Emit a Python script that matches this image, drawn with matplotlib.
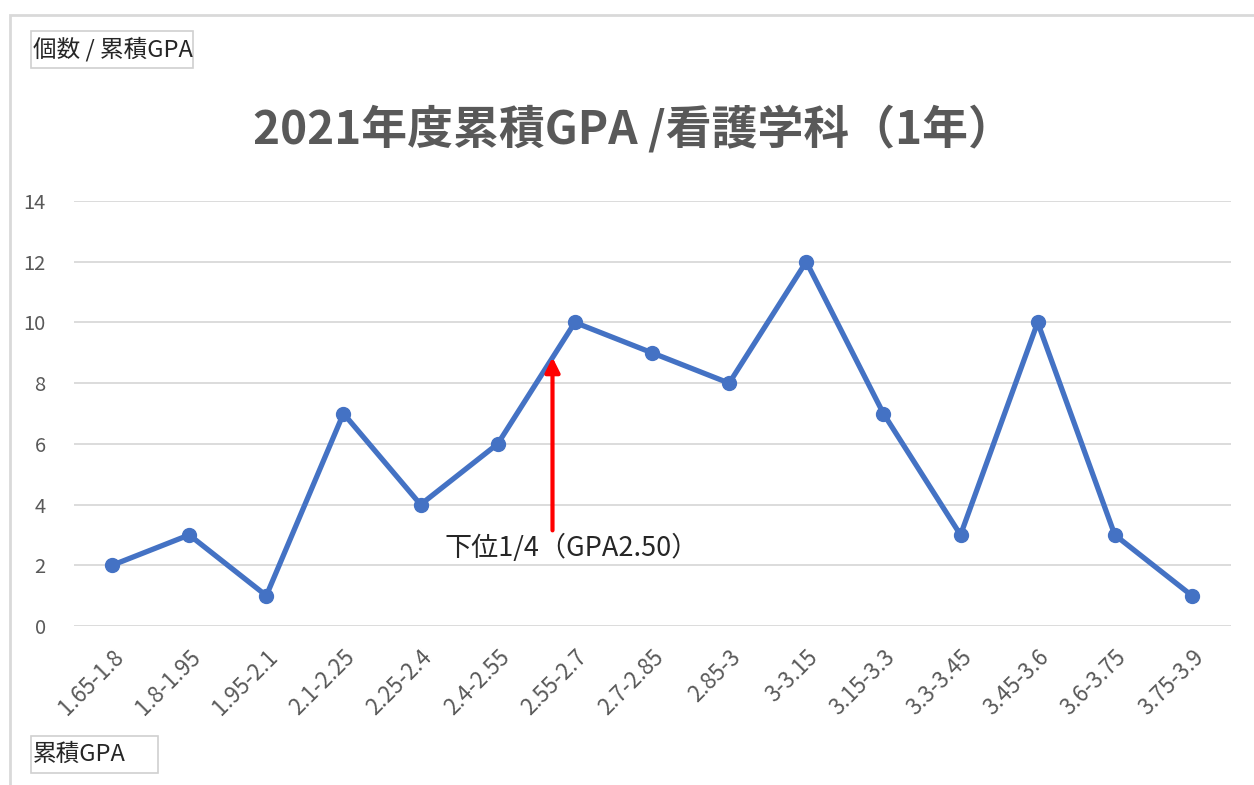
import matplotlib
matplotlib.use("Agg")
import matplotlib.pyplot as plt
from matplotlib.patches import Rectangle

plt.rcParams['font.family'] = ['Noto Sans CJK JP', 'DejaVu Sans']

# data
categories = ['1.65-1.8', '1.8-1.95', '1.95-2.1', '2.1-2.25', '2.25-2.4', '2.4-2.55',
              '2.55-2.7', '2.7-2.85', '2.85-3', '3-3.15', '3.15-3.3', '3.3-3.45',
              '3.45-3.6', '3.6-3.75', '3.75-3.9']
counts = [2, 3, 1, 7, 4, 6, 10, 9, 8, 12, 7, 3, 10, 3, 1]
yticks = [0, 2, 4, 6, 8, 10, 12, 14]
title = '2021年度累積GPA /看護学科（1年）'
marker_label = '下位1/4（GPA2.50）'
marker_x = 5.71          # position of GPA 2.50 on the category axis
arrow_from, arrow_to = 3.15, 8.85

W, H = 1254, 785
fig = plt.figure(figsize=(W/100, H/100), dpi=100)
# outer chart frame (runs off the right / bottom edge like the screenshot)
fig.patches.append(Rectangle((10/W, -0.05), 1.2, 1 - 15/H + 0.05,
                             transform=fig.transFigure, fill=False,
                             edgecolor='#d9d9d9', lw=2))

ax = fig.add_axes([73.5/W, 1 - 626/H, 1157/W, 425/H])
x = range(len(categories))
ax.plot(x, counts, color='#4472c4', lw=3.8, marker='o', ms=10, zorder=3)

ax.set_xlim(-0.5, len(categories) - 0.5)
ax.set_ylim(0, 14)
ax.set_yticks(yticks)
ax.set_xticks(list(x))
ax.set_xticklabels(categories, rotation=45, ha='right', rotation_mode='anchor',
                   fontsize=16, color='#595959')
ax.tick_params(axis='y', labelsize=14.5, labelcolor='#595959', length=0, pad=20)
ax.tick_params(axis='x', length=0, pad=14)
ax.grid(axis='y', color='#d9d9d9', lw=1.3)
ax.set_axisbelow(True)
for s in ax.spines.values():
    s.set_visible(False)

fig.text(633/W, 1 - 130/H, title, ha='center', va='center', fontsize=33,
         fontweight='bold', color='#595959')

# annotation arrow
ax.annotate('', xy=(marker_x, arrow_to), xytext=(marker_x, arrow_from),
            arrowprops=dict(arrowstyle='-|>', color='red', lw=3,
                            mutation_scale=22, shrinkA=0, shrinkB=0), zorder=4)
ax.text(4.31, 2.57, marker_label, ha='left', va='center', fontsize=19.5,
        color='#262626')

# axis title boxes
for (x0, y0, x1, y1), txt in [((31, 31, 193, 68), '個数 / 累積GPA'),
                              ((31, 736, 158, 773), '累積GPA')]:
    fig.patches.append(Rectangle((x0/W, 1 - y1/H), (x1 - x0)/W, (y1 - y0)/H,
                                 transform=fig.transFigure, fc='white',
                                 ec='#d0d0d0', lw=1.2))
    fig.text((x0 + 2)/W, 1 - (y0 + y1)/2/H, txt, ha='left', va='center',
             fontsize=17, color='#262626')

fig.savefig('out.png', dpi=100)
